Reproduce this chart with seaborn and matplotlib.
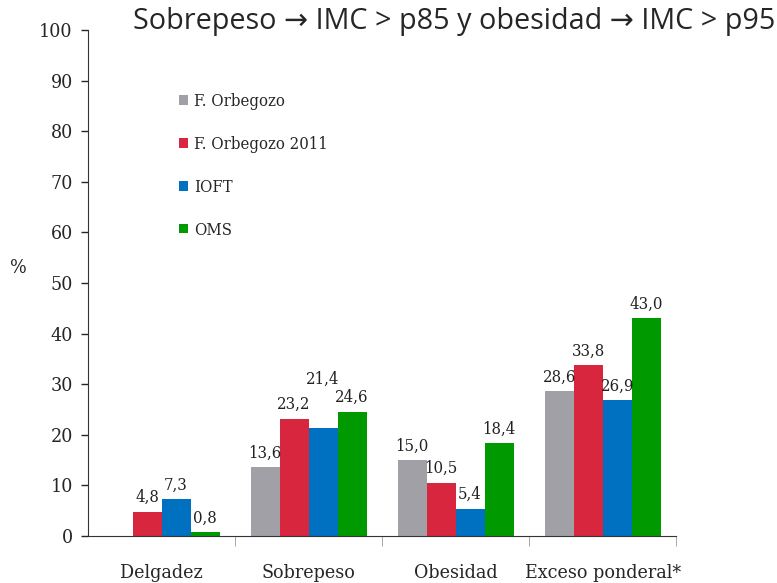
import pandas as pd
import numpy as np
import matplotlib
matplotlib.use("Agg")
import matplotlib.pyplot as plt
from matplotlib import font_manager
import seaborn as sns

categorias = ["Delgadez", "Sobrepeso", "Obesidad", "Exceso ponderal*"]
series = ["F. Orbegozo", "F. Orbegozo 2011", "IOFT", "OMS"]
orbegozo = [np.nan, 13.6, 15.0, 28.6]
orbegozo_2011 = [4.8, 23.2, 10.5, 33.8]
ioft = [7.3, 21.4, 5.4, 26.9]
oms = [0.8, 24.6, 18.4, 43.0]
colores = ["#A0A0A6", "#D9263F", "#0070C0", "#009A00"]

rows = []
for serie, vals in zip(series, [orbegozo, orbegozo_2011, ioft, oms]):
    for cat, v in zip(categorias, vals):
        rows.append({"categoria": cat, "serie": serie, "valor": v})
df = pd.DataFrame(rows)

sns.set_style("white")
fig = plt.figure(figsize=(7.77, 5.83), dpi=100)
ax = fig.add_axes([0.1133, 0.0806, 0.757, 0.868])

sns.barplot(data=df, x="categoria", y="valor", hue="serie", order=categorias,
            hue_order=series, palette=colores, width=0.79, saturation=1,
            edgecolor="none", ax=ax)

# condensed serif like the original
fnt = dict(family="DejaVu Serif", stretch="condensed")
# labels that sit higher in the original to avoid overlaps
extra_pad = {("IOFT", 1): 25, ("F. Orbegozo", 3): 11}
for serie, cont in zip(series, ax.containers):
    for i, (bar, v) in enumerate(zip(cont, cont.datavalues)):
        if np.isnan(v):
            continue
        ax.annotate(f"{v:.1f}".replace(".", ","),
                    (bar.get_x() + bar.get_width() / 2, v),
                    xytext=(0, 4 + extra_pad.get((serie, i), 0)),
                    textcoords="offset points", ha="center", va="bottom",
                    fontsize=12, color="#222222", **fnt)

ax.set_ylim(0, 100)
ax.set_xlim(-0.5, 3.5)
ax.set_yticks(range(0, 101, 10))
ax.tick_params(axis="y", labelsize=14, length=5, width=1, direction="out", left=True, pad=6)
for lab in ax.get_yticklabels():
    lab.set(**fnt)
ax.tick_params(axis="x", labelsize=14, length=0, pad=20)
for lab in ax.get_xticklabels():
    lab.set(**fnt)
ax.set_xticks([0.5, 1.5, 2.5, 3.5], minor=True)
ax.tick_params(axis="x", which="minor", length=7, bottom=True, color="#999999")

ax.set_xlabel("")
ax.set_ylabel("%", rotation=0, fontsize=14, va="center", **fnt)
ax.yaxis.set_label_coords(-0.119, 0.53)

for s in ["top", "right"]:
    ax.spines[s].set_visible(False)
ax.spines["left"].set_color("#333333")
ax.spines["bottom"].set_color("#333333")

leg = ax.legend(loc="upper left", bbox_to_anchor=(0.13, 0.905), frameon=False,
                handlelength=0.5, handleheight=0.5, handletextpad=0.35,
                labelspacing=1.55,
                prop=font_manager.FontProperties(size=12, **fnt))

fig.text(0.171, 0.988, "Sobrepeso \u2192 IMC > p85 y obesidad \u2192 IMC > p95",
         fontsize=20.7, family=["Open Sans", "DejaVu Sans"], va="top", ha="left")

fig.savefig("out.png", dpi=100)
